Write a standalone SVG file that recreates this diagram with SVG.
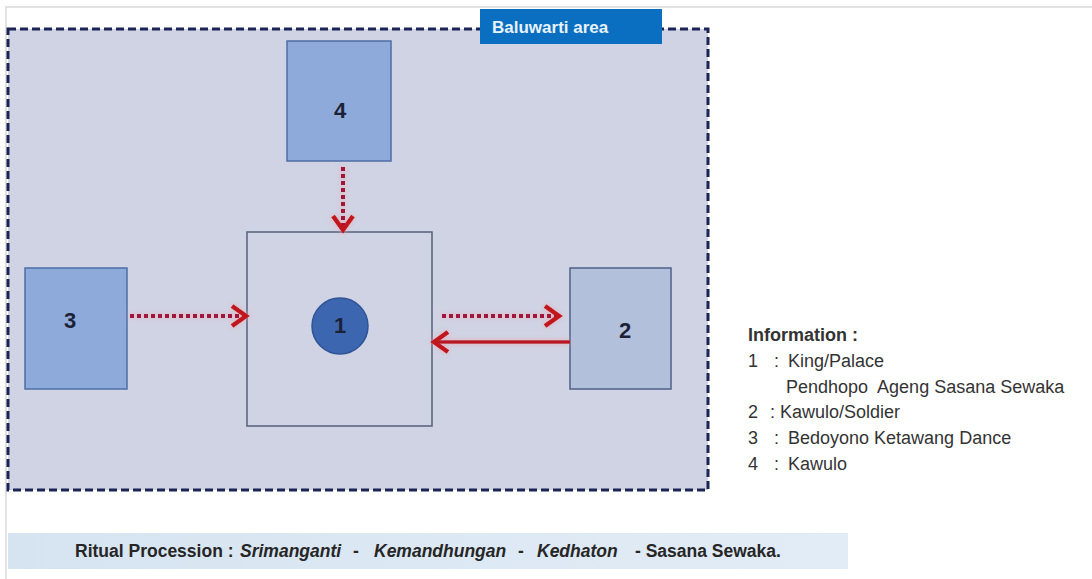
<svg xmlns="http://www.w3.org/2000/svg" width="1092" height="579" viewBox="0 0 1092 579">
  <style>
    .frame { stroke: #d9d9d9; stroke-width: 1.5; fill: none; }
    .area { fill: #cfd3e3; stroke: #1b2555; stroke-width: 3; stroke-dasharray: 8 4; }
    .boxA { fill: #8eaadb; stroke: #4f6ea8; stroke-width: 1.5; }
    .boxB { fill: #b2c0dc; stroke: #4f6288; stroke-width: 1.5; }
    .boxC { fill: #cfd3e3; stroke: #5d6680; stroke-width: 1.6; }
    .num { font-family: "Liberation Sans", Arial, sans-serif; font-weight: bold; font-size: 22px; fill: #1c2236; text-anchor: middle; }
    .dot { stroke: #a0183a; stroke-width: 4; stroke-dasharray: 4 3; fill: none; }
    .solid { stroke: #b81424; stroke-width: 3.5; fill: none; }
    .info { font-family: "Liberation Sans", Arial, sans-serif; font-size: 18px; fill: #333333; }
    .band { font-family: "Liberation Sans", Arial, sans-serif; font-size: 17.5px; font-weight: bold; fill: #262626; }
  </style>
  <defs>
    <marker id="head" markerUnits="userSpaceOnUse" markerWidth="24" markerHeight="24" refX="15" refY="11" orient="auto" overflow="visible">
      <polyline points="1,1 15,11 1,21" fill="none" stroke="#c0141c" stroke-width="4.5" stroke-linejoin="miter"/>
    </marker>
    <filter id="glow" filterUnits="userSpaceOnUse" x="0" y="0" width="1092" height="579">
      <feGaussianBlur in="SourceAlpha" stdDeviation="2.5" result="b"/>
      <feFlood flood-color="#f2a0aa" flood-opacity="0.75"/>
      <feComposite in2="b" operator="in" result="halo"/>
      <feMerge><feMergeNode in="halo"/><feMergeNode in="SourceGraphic"/></feMerge>
    </filter>
    <linearGradient id="bandFill" x1="0" y1="0" x2="1" y2="0">
      <stop offset="0" stop-color="#d6e4f1"/>
      <stop offset="1" stop-color="#e2ecf6"/>
    </linearGradient>
  </defs>

  <!-- page frame -->
  <rect width="1092" height="579" fill="#ffffff"/>
  <polyline class="frame" points="6,579 6,7 1092,7"/>

  <!-- Baluwarti area -->
  <g id="baluwarti">
    <rect class="area" x="8" y="29" width="700" height="461"/>
    <rect x="480" y="9" width="182" height="35" fill="#0b6fc1"/>
    <text x="492" y="33" font-family="Liberation Sans, Arial, sans-serif" font-size="17" font-weight="bold" fill="#e8f2fb">Baluwarti area</text>
  </g>

  <!-- nodes -->
  <g id="node4">
    <rect class="boxA" x="287" y="41" width="104" height="120"/>
    <text class="num" x="340" y="118">4</text>
  </g>
  <g id="node3">
    <rect class="boxA" x="25" y="268" width="102" height="121"/>
    <text class="num" x="70" y="328">3</text>
  </g>
  <g id="node1">
    <rect class="boxC" x="247" y="232" width="185" height="194"/>
    <circle cx="340" cy="326" r="28" fill="#3d66b0" stroke="#2e5496" stroke-width="1.5"/>
    <text class="num" x="340" y="333" font-size="19">1</text>
  </g>
  <g id="node2">
    <rect class="boxB" x="570" y="268" width="101" height="121"/>
    <text class="num" x="625" y="338">2</text>
  </g>

  <!-- connectors -->
  <g id="connectors" filter="url(#glow)">
    <line class="dot" x1="343" y1="167" x2="343" y2="230" marker-end="url(#head)"/>
    <line class="dot" x1="130" y1="316" x2="246" y2="316" marker-end="url(#head)"/>
    <line class="dot" x1="442" y1="316" x2="559" y2="316" marker-end="url(#head)"/>
    <line class="solid" x1="570" y1="342" x2="434" y2="342" marker-end="url(#head)"/>
  </g>

  <!-- legend -->
  <g id="legend" class="info">
    <text x="748" y="341" font-weight="bold">Information :</text>
    <text x="748" y="367">1</text><text x="774" y="367">:</text><text x="788" y="367">King/Palace</text>
    <text x="786" y="393" xml:space="preserve">Pendhopo  Ageng Sasana Sewaka</text>
    <text x="748" y="418">2</text><text x="770" y="418">: Kawulo/Soldier</text>
    <text x="748" y="444">3</text><text x="774" y="444">:</text><text x="788" y="444">Bedoyono Ketawang Dance</text>
    <text x="748" y="470">4</text><text x="774" y="470">:</text><text x="788" y="470">Kawulo</text>
  </g>

  <!-- procession band -->
  <g id="procession">
    <rect x="8" y="533" width="840" height="36" fill="url(#bandFill)"/>
    <text class="band" y="557">
      <tspan x="75">Ritual Procession :</tspan>
      <tspan x="240" font-style="italic">Srimanganti</tspan>
      <tspan x="353">-</tspan>
      <tspan x="374" font-style="italic">Kemandhungan</tspan>
      <tspan x="518">-</tspan>
      <tspan x="537" font-style="italic">Kedhaton</tspan>
      <tspan x="635">- Sasana Sewaka.</tspan>
    </text>
  </g>
</svg>
